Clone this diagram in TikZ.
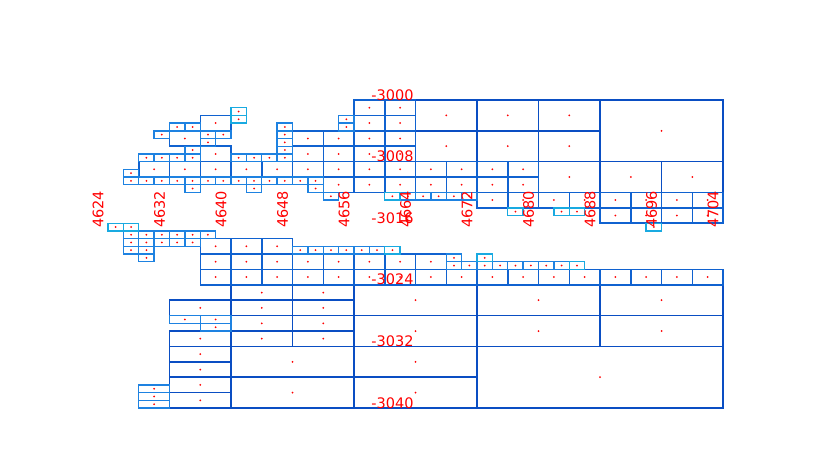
\documentclass[tikz,border=0pt]{standalone}
\usepackage{fontspec}
\newfontfamily\labfont{DejaVu Sans}
\definecolor{cbig}{RGB}{10,78,195}
\definecolor{cmid}{RGB}{16,98,208}
\definecolor{csmall}{RGB}{30,130,225}
\definecolor{ccyan}{RGB}{25,170,225}
\tikzset{
  bigcell/.style={draw=cbig,line width=1.5pt},
  midcell/.style={draw=cmid,line width=1.5pt},
  smallcell/.style={draw=csmall,line width=1.4pt},
  cyancell/.style={draw=ccyan,line width=1.4pt},
  cdot/.style={fill=red},
  axlab/.style={text=red,font=\labfont\fontsize{14.5}{14.5}\selectfont,inner sep=0pt}
}
\begin{document}
\begin{tikzpicture}[x=1pt,y=-1pt]
\useasboundingbox (0,0) rectangle (840,459);
\begin{scope}[shift={(108,100)},x=15.375pt,y=-7.7pt]
% large cells c/r/w/h
\foreach \c/\r/\w/\h in {32/0/8/8,
  20/0/4/4,20/4/4/4,24/0/4/4,28/0/4/4,24/4/4/4,28/4/4/4,28/8/4/4,32/8/4/4,36/8/4/4,
  16/24/8/4,24/24/8/4,32/24/8/4,16/28/8/4,24/28/8/4,32/28/8/4,16/32/8/4,16/36/8/4,8/32/8/4,8/36/8/4,
  24/32/16/8,
  8/24/4/2,8/26/4/2,8/28/4/2,8/30/4/2,12/24/4/2,12/26/4/2,12/28/4/2,12/30/4/2,
  4/26/4/2,4/30/4/2,4/32/4/2,4/34/4/2,4/36/4/2,4/38/4/2}
{\draw[bigcell] (\c,\r) rectangle ++(\w,\h);
 \fill[cdot] ({\c+\w/2},{\r+\h/2}) circle (1pt);}
% 2x2 cells
\foreach \c/\r in {6/2,4/4,6/6,2/8,4/8,6/8,8/8,10/8,
  12/4,14/4,16/4,18/4,12/6,14/6,16/6,18/6,
  16/0,18/0,16/2,18/2,
  12/8,14/8,16/8,18/8,20/8,22/8,24/8,26/8,
  14/10,16/10,18/10,20/10,22/10,24/10,26/10,
  24/12,26/12,28/12,30/12,32/12,34/12,36/12,38/12,
  32/14,34/14,36/14,38/14,
  6/18,8/18,10/18,6/20,8/20,10/20,12/20,14/20,16/20,18/20,20/20,
  6/22,8/22,10/22,12/22,14/22,16/22,18/22,20/22,22/22,24/22,26/22,28/22,30/22,32/22,34/22,36/22,38/22}
{\draw[midcell] (\c,\r) rectangle ++(2,2);
 \fill[cdot] ({\c+1},{\r+1}) circle (1pt);}
% 2x1 cells
\foreach \c/\r in {4/28,6/28,6/29,2/37,2/38,2/39}
{\draw[smallcell] (\c,\r) rectangle ++(2,1);
 \fill[cdot] ({\c+1},{\r+0.5}) circle (1pt);}
% 1x1 cells
\foreach \c/\r in {4/3,5/3,3/4,6/4,7/4,6/5,5/6,
  2/7,3/7,4/7,5/7,8/7,9/7,10/7,11/7,
  11/3,11/4,11/5,11/6,15/2,15/3,
  1/9,1/10,2/10,3/10,4/10,5/10,6/10,7/10,8/10,9/10,10/10,11/10,5/11,9/11,12/10,13/10,13/11,
  14/12,19/12,20/12,21/12,22/12,23/12,
  1/17,2/17,3/17,4/17,5/17,6/17,1/18,2/18,3/18,4/18,5/18,1/19,2/19,2/20,
  12/19,13/19,14/19,15/19,16/19,17/19,22/20,22/21,23/21,
  24/21,25/21,26/21,27/21,28/21,29/21}
{\draw[smallcell] (\c,\r) rectangle ++(1,1);
 \fill[cdot] ({\c+0.5},{\r+0.5}) circle (1pt);}
% light cyan 1x1 cells
\foreach \c/\r in {8/1,8/2,18/12,18/19,24/20,30/21,26/14,29/14,30/14,35/16,0/16,1/16}
{\draw[cyancell] (\c,\r) rectangle ++(1,1);
 \fill[cdot] ({\c+0.5},{\r+0.5}) circle (1pt);}
% axis labels
\foreach \k in {0,...,10}
{\pgfmathtruncatemacro{\v}{4624+8*\k}
 \node[axlab,rotate=90,anchor=base] (xl\k) at ({4*\k-0.3},14.2) {\v};}
\foreach \k in {0,...,5}
{\pgfmathtruncatemacro{\v}{-3000-8*\k}
 \node[axlab,anchor=base] (yl\k) at (18.5,{8*\k}) {\v};}
\end{scope}
\end{tikzpicture}
\end{document}
